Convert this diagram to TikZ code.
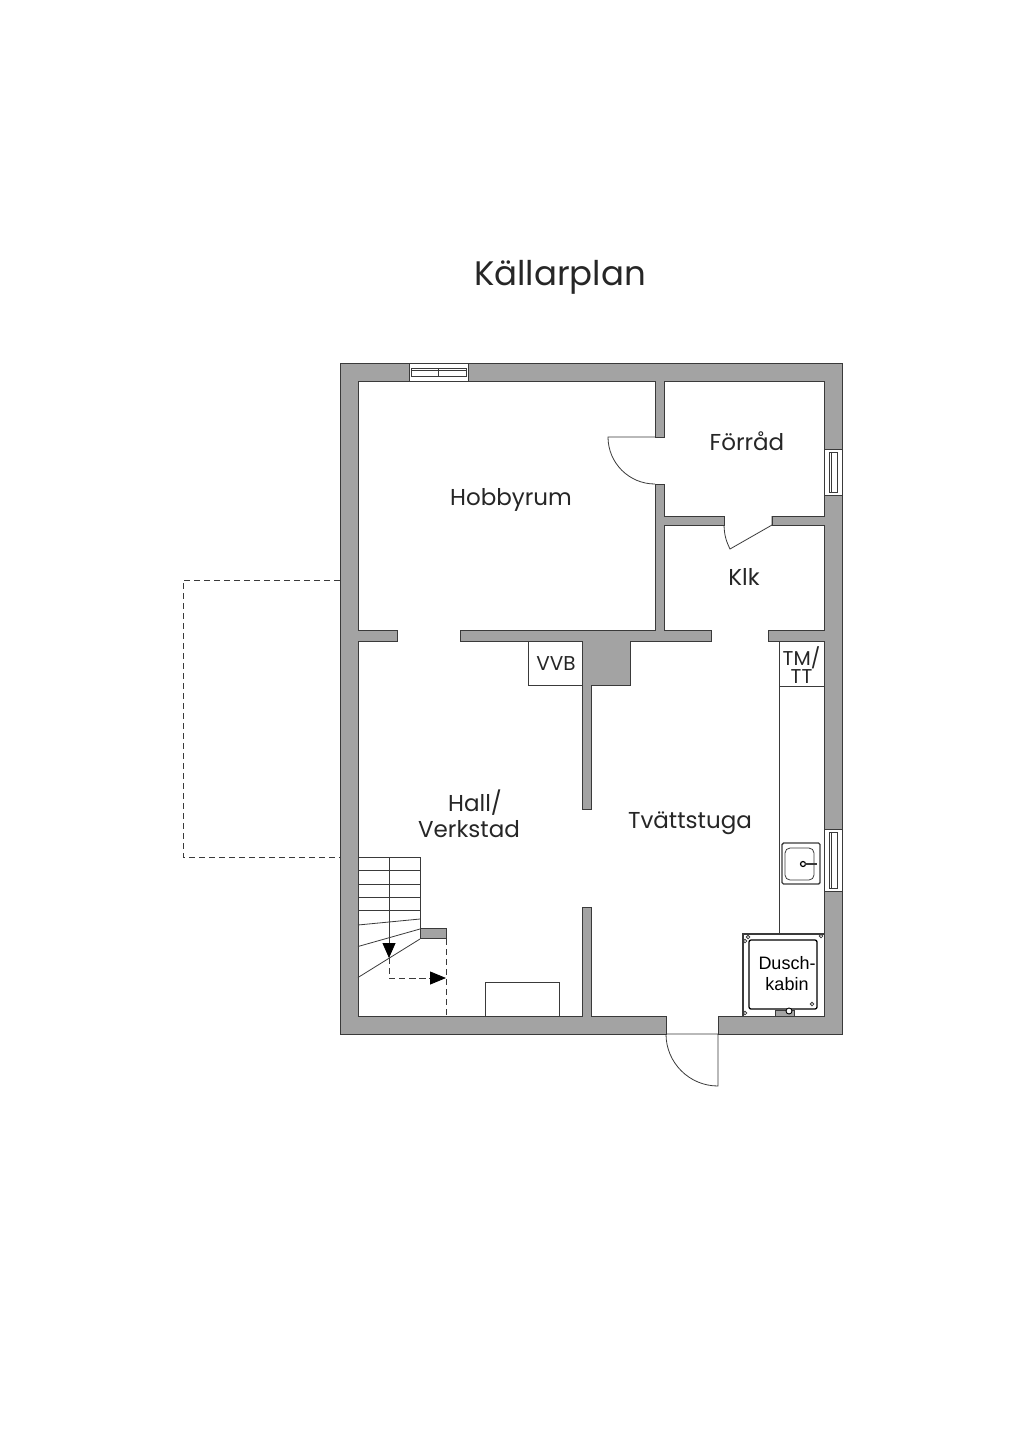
\documentclass[tikz,border=0pt]{standalone}
\usepackage{fontspec}
\setmainfont{Poppins}
\newfontfamily\duschfont{Liberation Sans}
\usetikzlibrary{arrows.meta}
\definecolor{wallgray}{HTML}{A3A3A3}
\definecolor{linegray}{HTML}{3A3A3A}

\begin{document}
\begin{tikzpicture}[x=1pt, y=-1pt]
    \tikzset{
      wall/.style = {draw=linegray, fill=wallgray, line width=0.9pt, line join=miter},
      thin line/.style = {draw=linegray, line width=0.8pt},
      dash line/.style = {draw=linegray, line width=0.8pt, dash pattern=on 6pt off 4pt},
      window/.style = {draw=linegray, fill=white, line width=0.7pt},
      room/.style = {align=center, font=\fontsize{23}{26}\selectfont, text=black!85},
      small room/.style = {align=center, font=\fontsize{20}{17}\selectfont, text=black!85}
    }
    \useasboundingbox (0,0) rectangle (1024,1448);

    % walls, one outline through the door gap
    \path [wall] (666,1034) -- (340,1034) -- (340,363) -- (842,363) -- (842,1034) -- (718,1034)
      -- (718,1016) -- (824,1016) -- (824,641) -- (768,641) -- (768,630) -- (824,630)
      -- (824,525) -- (772,525) -- (772,516) -- (824,516) -- (824,381) -- (664,381)
      -- (664,437) -- (655,437) -- (655,381) -- (358,381) -- (358,630) -- (397,630)
      -- (397,641) -- (358,641) -- (358,1016) -- (582,1016) -- (582,907) -- (591,907)
      -- (591,1016) -- (666,1016) -- cycle;
    \path [wall] (655,484) -- (664,484) -- (664,516) -- (724,516) -- (724,525) -- (664,525)
      -- (664,630) -- (711,630) -- (711,641) -- (630,641) -- (630,685) -- (591,685)
      -- (591,809) -- (582,809) -- (582,641) -- (460,641) -- (460,630) -- (655,630) -- cycle;
    \path [wall] (420,928) rectangle (446,938);

    % windows
    \path [window] (409,363) rectangle (468,381);
    \path [window] (411,368) rectangle (438,376);
    \path [window] (438,368) rectangle (466,376);
    \path [window] (411,370) -- (466,370);
    \path [window] (824,449) rectangle (842,495);
    \path [window] (829,452) rectangle (837,492);
    \path [window] (831,452) -- (831,492);
    \path [window] (824,829) rectangle (842,891);
    \path [window] (829,832) rectangle (837,888);
    \path [window] (831,832) -- (831,888);

    % doors
    \draw [thin line] (655,437) -- (608,437) arc[start angle=180, end angle=270, x radius=47, y radius=-47];
    \draw [thin line] (772,516) -- (772,525) -- (730,549) to[bend left=12] (724,525);
    \draw [thin line] (666,1034) -- (718,1034) -- (718,1086) arc[start angle=270, end angle=180, x radius=52, y radius=-52];

    % terrace
    \draw [dash line] (340,580) -- (183,580) -- (183,857) -- (340,857);

    % stairs
    \draw [thin line] (358,857) -- (420,857) -- (420,939);
    \foreach \yy in {870.5,884,897,910.5}
      \draw [thin line] (358,\yy) -- (420,\yy);
    \draw [thin line] (358,925) -- (420,919);
    \draw [thin line] (358,946.5) -- (420,929);
    \draw [thin line] (358,977.5) -- (420,939);
    \draw [thin line, -{Triangle[length=15pt, width=13pt, color=black]}] (389,857) -- (389,958);
    \draw [dash line] (389,958) -- (389,978) -- (430,978);
    \draw [dash line, -{Triangle[length=16pt, width=13pt, color=black]}] (410,978) -- (446,978);
    \draw [dash line] (446,939) -- (446,1016);

    % fittings
    \draw [thin line] (485.5,1016) -- (485.5,982) -- (559,982) -- (559,1016);
    \draw [thin line] (528,641) -- (528,685) -- (582,685);
    \draw [thin line] (779,641) -- (779,934);
    \draw [thin line] (779,686) -- (824,686);
    \draw [draw=linegray, line width=1.4pt, rounded corners=1.5pt] (782,843) rectangle (820,884);
    \draw [thin line, rounded corners=5pt] (785,848) rectangle (814,880);
    \draw [draw=black, line width=1.2pt] (803,864) circle (2.5);
    \draw [draw=linegray, line width=1.6pt] (805,864) -- (817,864);

    % shower
    \draw [draw=linegray, line width=1.4pt] (743,1016) -- (743,934) -- (824,934);
    \draw [draw=black, line width=1.3pt, rounded corners=2pt] (749,940) rectangle (817,1009);
    \foreach \px/\py in {748/937,821/936,745/941,745/1013,812/1004}
      \draw [draw=linegray, line width=0.8pt] (\px,\py) circle (1.8);
    \draw [draw=linegray, fill=wallgray, line width=0.8pt] (775,1010) rectangle (794,1016);
    \draw [draw=black, fill=white, line width=0.9pt] (789,1011) circle (3);

    % labels
    \node (title) [font=\fontsize{34}{34}\selectfont, text=black!85] at (560,277) {Källarplan};
    \node (hobbyrum) [room] at (511,499.5) {Hobbyrum};
    \node (forrad) [room] at (747,441) {Förråd};
    \node (klk) [room] at (744,577) {Klk};
    \node (hall) [room] at (469,814) {\hspace*{12pt}Hall/\\Verkstad};
    \node (tvatt) [room] at (690,823) {Tvättstuga};
    \node (vvb) [small room] at (556,664) {VVB};
    \node (tmtt) [small room] at (801.5,665) {TM/\\TT};
    \node (dusch) [align=center, font=\duschfont\fontsize{18}{21}\selectfont] at (787,973.5) {Dusch-\\kabin};
\end{tikzpicture}
\end{document}
